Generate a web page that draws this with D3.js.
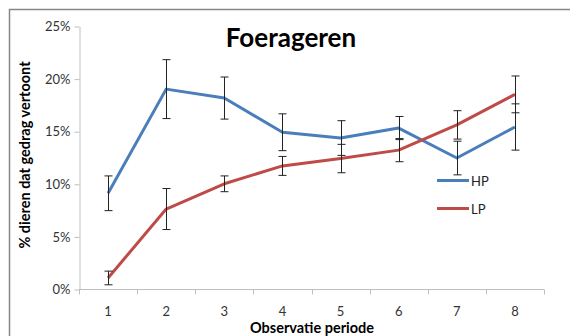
<!DOCTYPE html>
<html>
<head>
<meta charset="utf-8">
<script src="https://cdn.jsdelivr.net/npm/d3@7"></script>
<style>
  html, body { margin: 0; padding: 0; background: #fff; }
  svg { display: block; }
</style>
</head>
<body>
<svg id="chart" width="570" height="336"></svg>
<script>
// Observation periods and series (fractions of animals showing foraging)
const periods = [1, 2, 3, 4, 5, 6, 7, 8];
const hpValues = [0.091, 0.190, 0.1815, 0.149, 0.1435, 0.153, 0.1245, 0.154];
const hpErrors = [0.0165, 0.028, 0.020, 0.0175, 0.0165, 0.011, 0.016, 0.022];
const lpValues = [0.0105, 0.076, 0.100, 0.117, 0.124, 0.132, 0.156, 0.185];
const lpErrors = [0.0065, 0.0195, 0.0075, 0.009, 0.0135, 0.011, 0.0135, 0.0175];
const yTicks = [0, 0.05, 0.10, 0.15, 0.20, 0.25];
const seriesNames = ["HP", "LP"];
const seriesColors = ["#4a7ebb", "#be4b48"];

const svg = d3.select("#chart");
const font = "Lato, 'Open Sans', sans-serif";

// Outer frame
svg.append("rect")
  .attr("x", 9.5).attr("y", 9.5)
  .attr("width", 600).attr("height", 400)
  .attr("fill", "none").attr("stroke", "#878787").attr("stroke-width", 1.5);

const plot = { left: 79, right: 544, top: 26, bottom: 289 };

const x = d3.scaleBand().domain(periods).range([plot.left, plot.right]);
const y = d3.scaleLinear().domain([0, 0.25]).range([plot.bottom, plot.top]);
const cx = d => x(d) + x.bandwidth() / 2;

// Y axis
const yAxis = svg.append("g")
  .attr("transform", `translate(${plot.left + 0.5},0.5)`)
  .call(d3.axisLeft(y).tickValues(yTicks).tickFormat(d3.format(".0%")).tickSize(5).tickSizeOuter(0));
yAxis.select(".domain").attr("stroke", "#bfbfbf");
yAxis.selectAll(".tick line").attr("stroke", "#bfbfbf");
yAxis.selectAll(".tick text").attr("x", -9)
  .attr("font-family", font).attr("font-size", 13).attr("fill", "#333");

// X axis with ticks on band edges
const xAxisG = svg.append("g").attr("transform", `translate(0,${plot.bottom + 0.5})`);
xAxisG.append("line")
  .attr("x1", plot.left).attr("x2", plot.right)
  .attr("stroke", "#bfbfbf");
const edges = periods.map(p => x(p)).concat([plot.right]);
xAxisG.selectAll("line.edge").data(edges).join("line")
  .attr("class", "edge")
  .attr("x1", d => Math.round(d) + 0.5).attr("x2", d => Math.round(d) + 0.5)
  .attr("y1", 0).attr("y2", 5)
  .attr("stroke", "#bfbfbf");
xAxisG.selectAll("text").data(periods).join("text")
  .attr("x", d => cx(d)).attr("y", 26)
  .attr("text-anchor", "middle")
  .attr("font-family", font).attr("font-size", 13).attr("fill", "#333")
  .text(d => d);

// Series lines and error bars
const line = d3.line().x((d, i) => cx(periods[i])).y(d => y(d));
const allSeries = [
  { values: hpValues, errors: hpErrors },
  { values: lpValues, errors: lpErrors }
];

allSeries.forEach((s, k) => {
  svg.append("path")
    .datum(s.values)
    .attr("d", line)
    .attr("fill", "none")
    .attr("stroke", seriesColors[k])
    .attr("stroke-width", 3)
    .attr("stroke-linejoin", "round");
});

allSeries.forEach((s) => {
  const g = svg.append("g").attr("stroke", "#222").attr("stroke-width", 1);
  s.values.forEach((v, i) => {
    const px = Math.round(cx(periods[i])) + 0.5;
    const top = y(v + s.errors[i]);
    const bot = y(v - s.errors[i]);
    g.append("line").attr("x1", px).attr("x2", px).attr("y1", top).attr("y2", bot);
    g.append("line").attr("x1", px - 4).attr("x2", px + 4).attr("y1", top).attr("y2", top);
    g.append("line").attr("x1", px - 4).attr("x2", px + 4).attr("y1", bot).attr("y2", bot);
  });
});

// Legend
const legend = svg.append("g");
seriesNames.forEach((name, k) => {
  const ly = 180.5 + k * 28;
  legend.append("line")
    .attr("x1", 437).attr("x2", 469).attr("y1", ly).attr("y2", ly)
    .attr("stroke", seriesColors[k]).attr("stroke-width", 3);
  legend.append("text")
    .attr("x", 471).attr("y", ly + 5)
    .attr("font-family", font).attr("font-size", 13).attr("fill", "#222")
    .text(name);
});

// Title
svg.append("text")
  .attr("x", 291).attr("y", 47)
  .attr("text-anchor", "middle")
  .attr("font-family", font).attr("font-weight", "bold").attr("font-size", 26).attr("fill", "#000")
  .text("Foerageren");

// Axis titles
svg.append("text")
  .attr("transform", "translate(30,155) rotate(-90)")
  .attr("text-anchor", "middle")
  .attr("font-family", font).attr("font-weight", "bold").attr("font-size", 14.5).attr("fill", "#000")
  .text("% dieren dat gedrag vertoont");

svg.append("text")
  .attr("x", 312).attr("y", 333)
  .attr("text-anchor", "middle")
  .attr("font-family", font).attr("font-weight", "bold").attr("font-size", 14.5).attr("fill", "#000")
  .text("Observatie periode");
</script>
</body>
</html>
